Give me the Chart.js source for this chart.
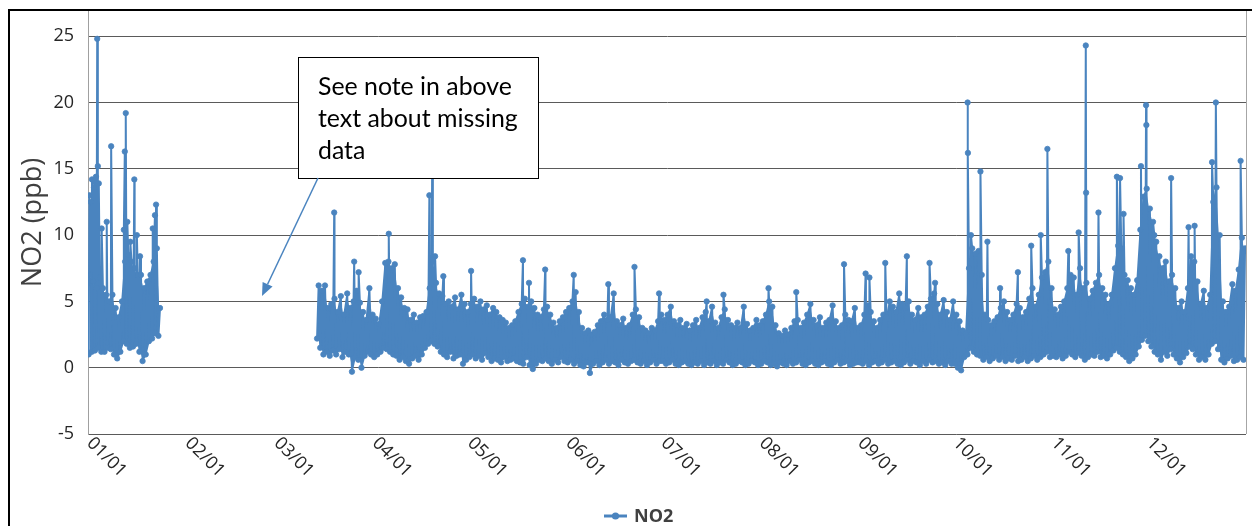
<!DOCTYPE html>
<html><head><meta charset="utf-8">
<script src="https://cdn.jsdelivr.net/npm/chart.js@4.4.1/dist/chart.umd.min.js"></script>
<style>html,body{margin:0;padding:0;background:#fff;}#wrap{width:1252px;height:526px;}</style>
</head><body><div id="wrap"><canvas id="c" width="1252" height="526"></canvas></div>
<script>
// ---- data (day-of-year, NO2 ppb) ----
const monthStarts = [0, 31, 59, 90, 120, 151, 181, 212, 243, 273, 304, 334];
const monthLabels = ['01/01','02/01','03/01','04/01','05/01','06/01','07/01','08/01','09/01','10/01','11/01','12/01'];
const yTickValues = [-5, 0, 5, 10, 15, 20, 25];

const janStartDay = 0;
const janLow  = [1.0,1.2,1.3,1.5,1.2,1.2,1.5,1.4,1.0,0.7,1.2,2.0,1.8,1.5,1.6,1.8,1.2,0.5,1.0,2.0,2.2,2.6,2.4];
const janHigh = [7.0,6.5,6.0,6.8,6.0,5.5,5.0,5.5,4.5,3.8,5.0,8.0,8.5,8.0,7.5,7.0,7.0,6.0,6.5,7.0,8.0,9.0,4.5];

const mainStartDay = 72;
const mainLow = [
 2.2,1.5,1.0,1.2,0.9,1.3,1.0,1.4,0.8,1.2,1.0,-0.3,0.8,0.6,0.0,0.9,1.2,1.0,
 0.8,1.0,1.2,1.5,1.4,1.2,1.0,0.9,0.6,0.8,0.5,0.3,0.7,0.9,0.6,1.0,1.5,1.8,2.0,1.8,1.6,1.2,1.0,0.8,1.2,0.7,0.9,1.0,0.3,0.6,
 0.8,1.0,0.7,0.9,0.6,1.1,0.8,0.5,0.7,0.6,0.4,0.8,0.5,0.6,0.7,0.5,0.4,0.3,0.8,0.2,-0.1,0.3,0.6,0.5,0.7,0.5,0.3,0.6,0.4,0.8,0.5,
 0.4,0.6,0.3,0.5,0.2,0.1,0.4,-0.4,0.3,0.5,0.2,0.4,0.6,0.3,0.5,0.4,0.2,0.6,0.4,0.3,0.5,0.6,0.4,0.3,0.5,0.2,0.4,0.6,0.3,0.5,
 0.5,0.3,0.4,0.6,0.3,0.2,0.4,0.5,0.3,0.2,0.4,0.3,0.5,0.2,0.4,0.3,0.5,0.2,0.4,0.3,0.6,0.4,0.2,0.3,0.5,0.4,0.2,0.3,0.5,0.4,0.2,
 0.3,0.5,0.4,0.2,0.3,0.1,0.4,0.3,0.2,0.5,0.3,0.4,0.6,0.3,0.2,0.4,0.5,0.3,0.2,0.4,0.5,0.3,0.2,0.4,0.6,0.3,0.4,0.5,0.2,0.3,0.4,
 0.4,0.3,0.5,0.2,0.4,0.5,0.3,0.4,0.6,0.3,0.4,0.5,0.3,0.2,0.4,0.6,0.3,0.5,0.4,0.2,0.5,0.3,0.6,0.4,0.5,0.3,0.4,0.2,0.5,0.3,
 0.3,0.0,-0.2,0.8,1.0,1.5,1.2,1.0,0.9,0.6,0.8,0.5,0.7,0.9,0.6,0.8,0.5,0.7,0.6,0.9,0.5,0.6,0.8,0.5,0.7,0.9,0.6,0.8,1.0,1.2,0.8,
 0.9,0.8,1.0,0.7,0.9,1.2,1.0,0.8,1.1,0.9,0.6,0.8,1.0,0.9,1.2,0.8,0.9,0.7,1.0,1.3,1.5,1.2,1.0,0.8,0.5,0.7,1.0,1.6,2.1,2.4,
 2.0,1.6,1.2,1.0,0.6,1.2,0.9,1.4,1.0,0.7,0.4,0.8,1.1,1.6,1.4,1.0,0.6,0.8,0.6,1.0,1.8,2.0,1.4,0.6,0.4,0.7,0.9,0.5,0.6,0.8,0.6
];
const mainHigh = [
 6.2,5.8,6.2,4.5,4.8,5.2,4.2,5.4,4.0,5.6,4.5,5.0,5.8,4.9,4.2,3.6,6.0,4.0,
 3.7,3.3,5.0,7.9,8.0,7.5,7.8,6.0,5.3,4.5,4.4,3.6,4.0,3.4,3.8,3.9,4.2,6.0,8.0,6.4,5.6,5.4,4.8,5.0,4.6,5.3,4.4,5.5,4.8,4.2,
 4.8,5.2,4.6,5.0,4.4,4.7,4.0,4.5,4.2,3.8,3.6,3.4,3.0,3.2,3.5,4.2,4.8,5.2,4.6,5.0,4.5,4.0,3.8,4.4,4.6,4.0,3.4,3.0,3.5,3.8,4.2,
 4.5,5.0,5.7,4.2,3.0,2.6,2.8,2.5,2.7,3.2,3.5,4.0,3.6,3.8,5.6,3.5,3.2,3.7,3.0,3.2,4.0,4.4,3.8,3.0,2.8,2.6,3.0,2.8,3.5,4.0,
 3.6,4.0,4.6,3.5,3.2,3.6,3.0,3.3,2.8,3.2,3.6,3.0,3.8,4.2,3.5,4.6,3.4,3.0,3.8,4.4,3.6,3.2,3.0,3.4,3.0,4.6,3.3,2.8,3.0,3.6,3.2,
 3.5,4.0,5.0,4.6,3.2,2.6,2.4,2.8,2.5,3.0,3.5,3.6,3.0,3.4,4.0,4.8,3.6,3.2,3.8,3.0,3.4,3.6,4.7,3.5,3.0,3.2,4.0,3.6,3.5,4.5,3.0,
 3.2,4.0,4.7,4.2,3.5,3.0,3.6,4.0,3.8,5.0,4.6,4.2,5.6,4.8,4.5,5.0,4.0,3.6,4.5,3.8,4.0,4.6,5.2,5.6,4.8,4.0,5.1,4.2,3.6,5.0,
 4.0,3.5,2.8,2.6,7.5,9.0,8.6,8.8,7.0,4.0,3.6,3.2,3.5,3.8,4.5,5.0,4.2,3.6,4.0,4.8,4.5,3.8,4.2,5.2,6.0,4.6,5.5,6.8,7.2,8.0,6.0,
 4.4,4.0,4.6,5.0,6.0,7.0,6.8,5.5,7.5,6.0,6.4,5.2,5.8,6.4,7.0,6.0,5.5,4.8,5.5,7.5,9.2,9.0,7.0,6.6,6.0,5.5,6.6,10.4,12.9,13.5,
 12.0,11.0,9.5,8.4,7.5,8.0,6.5,7.0,6.0,4.5,5.0,4.2,6.0,8.4,8.0,6.5,4.8,5.8,4.5,5.5,12.5,13.6,10.0,5.0,4.2,4.6,6.3,5.8,7.4,9.8,9.0
];

const spikeDays = [0.45,0.9,1.25,1.9,2.1,2.5,2.9,3.1,3.4,4.3,5.9,7.3,11.3,11.6,11.9,12.4,13.35,14.6,15.4,16.4,20.4,21.1,21.45,
 77.6,83.9,85.3,94.8,107.6,108.5,109.4,112.0,120.75,137.1,139.0,144.1,153.1,164.0,172.25,180.0,195.0,200.3,
 214.5,223.25,238.3,245.1,246.3,251.3,258.1,265.25,267.0,277.25,277.35,278.3,281.3,283.5,287.5,293.1,297.3,300.3,302.4,
 309.0,312.25,314.5,314.6,318.5,324.3,325.3,326.4,331.9,333.5,333.6,336.1,341.4,346.9,348.8,354.3,355.5,363.3];
const spikeValues = [13.0,12.5,14.2,13.6,14.0,14.4,24.8,15.2,13.9,10.5,11.0,16.7,10.4,16.3,19.2,11.0,9.5,14.2,10.0,8.4,10.5,11.5,12.3,
 11.7,8.0,7.2,10.1,13.0,16.0,8.4,6.9,7.3,8.1,6.4,7.4,7.0,6.3,7.6,5.6,5.0,5.5,
 6.0,5.7,7.8,7.1,6.8,7.9,8.4,7.9,6.4,20.0,16.2,10.0,14.8,9.5,6.0,7.2,9.2,10.0,16.5,
 8.8,10.2,24.3,13.2,11.7,14.4,14.3,11.6,15.2,19.8,18.3,10.0,14.3,10.6,10.7,15.5,20.0,15.6];

const missingGapDay = 45;

// ---- build series ----
const points = [], lowEnv = [], highEnv = [];
function addSegment(start, lows, highs) {
  for (let i = 0; i < lows.length; i++) {
    points.push({x: start + i + 0.2, y: lows[i]});
    points.push({x: start + i + 0.7, y: highs[i]});
    lowEnv.push({x: start + i + 0.45, y: lows[i]});
    highEnv.push({x: start + i + 0.45, y: highs[i]});
  }
}
addSegment(janStartDay, janLow, janHigh);
lowEnv.push({x: missingGapDay, y: null}); highEnv.push({x: missingGapDay, y: null});
addSegment(mainStartDay, mainLow, mainHigh);
spikeDays.forEach((d, i) => points.push({x: d, y: spikeValues[i]}));
points.push({x: missingGapDay, y: null});
points.sort((a, b) => a.x - b.x);

const BLUE = '#4a84bf';
const FONT = "'Open Sans', 'DejaVu Sans', sans-serif";

const deco = {
  id: 'deco',
  beforeDraw(chart) {
    const c = chart.ctx; c.save(); c.fillStyle = '#fff'; c.fillRect(0, 0, chart.width, chart.height); c.restore();
  },
  afterDraw(chart) {
    const c = chart.ctx, a = chart.chartArea, xs = chart.scales.x;
    c.save();
    c.strokeStyle = '#a6a6a6'; c.lineWidth = 1;
    c.beginPath(); c.moveTo(Math.round(a.right) + 0.5, a.top); c.lineTo(Math.round(a.right) + 0.5, a.bottom); c.stroke();
    c.strokeStyle = '#000'; c.lineWidth = 2;
    c.beginPath(); c.moveTo(9, 526); c.lineTo(9, 10); c.lineTo(1252, 10); c.stroke();
    c.fillStyle = '#262626'; c.font = '18px ' + FONT; c.textAlign = 'left'; c.textBaseline = 'top';
    monthStarts.forEach((d, i) => {
      const px = xs.getPixelForValue(d);
      c.save(); c.translate(px + 8, a.bottom); c.rotate(Math.PI / 4); c.fillText(monthLabels[i], 0, 0); c.restore();
    });
    c.fillStyle = '#fff'; c.fillRect(298, 57, 240, 121);
    c.strokeStyle = '#000'; c.lineWidth = 1; c.strokeRect(298.5, 57.5, 240, 121);
    c.fillStyle = '#000';
    let fs = 24; c.font = fs + "px Lato, 'Open Sans', sans-serif";
    const w = c.measureText('See note in above').width; fs = fs * 194 / w;
    c.font = fs.toFixed(2) + "px Lato, 'Open Sans', sans-serif";
    c.textBaseline = 'alphabetic';
    ['See note in above', 'text about missing', 'data'].forEach((t, i) => c.fillText(t, 318, 95 + i * 32));
    const x0 = 318, y0 = 178, x1 = 262, y1 = 296;
    const ang = Math.atan2(y1 - y0, x1 - x0), hl = 13, hw = 5.5;
    const bx = x1 - hl * Math.cos(ang), by = y1 - hl * Math.sin(ang);
    c.strokeStyle = BLUE; c.fillStyle = BLUE; c.lineWidth = 1.5;
    c.beginPath(); c.moveTo(x0, y0); c.lineTo(bx, by); c.stroke();
    c.beginPath(); c.moveTo(x1, y1);
    c.lineTo(bx + hw * Math.sin(ang), by - hw * Math.cos(ang));
    c.lineTo(bx - hw * Math.sin(ang), by + hw * Math.cos(ang));
    c.closePath(); c.fill();
    c.strokeStyle = BLUE; c.lineWidth = 3;
    c.beginPath(); c.moveTo(604, 516); c.lineTo(627, 516); c.stroke();
    c.beginPath(); c.arc(615.5, 516, 3.6, 0, Math.PI * 2); c.fill();
    c.fillStyle = '#404040'; c.font = 'bold 18px ' + FONT; c.textBaseline = 'alphabetic';
    c.fillText('NO2', 634, 522);
    c.restore();
  }
};

new Chart(document.getElementById('c'), {
  type: 'line',
  data: {datasets: [
    {label: 'NO2', data: points, borderColor: BLUE, backgroundColor: BLUE,
     borderWidth: 2, pointRadius: 2.7, pointBorderWidth: 0.8, pointBackgroundColor: BLUE, pointBorderColor: BLUE,
     spanGaps: false, tension: 0, fill: false},
    {label: 'low', data: lowEnv, borderWidth: 0, borderColor: 'rgba(0,0,0,0)', pointRadius: 0, fill: false, spanGaps: false},
    {label: 'high', data: highEnv, borderWidth: 0, borderColor: 'rgba(0,0,0,0)', backgroundColor: BLUE, pointRadius: 0, fill: '-1', spanGaps: false}
  ]},
  options: {
    responsive: false, animation: false, devicePixelRatio: 1,
    layout: {padding: {left: 0, right: 6, top: 11, bottom: 0}},
    plugins: {legend: {display: false}, tooltip: {enabled: false}, filler: {propagate: false}},
    scales: {
      x: {type: 'linear', min: 0, max: 365,
        grid: {display: false}, border: {display: false}, ticks: {display: false},
        afterFit(s) { s.height = 92; s.paddingLeft = 0; s.paddingRight = 0; }},
      y: {min: -5, max: 26.9,
        afterBuildTicks(s) { s.ticks = yTickValues.map(v => ({value: v})); },
        afterFit(s) { s.width = 88; s.paddingTop = 0; s.paddingBottom = 0; },
        grid: {color: '#5a5a5a', lineWidth: 1, drawTicks: false},
        border: {display: true, color: '#a0a0a0', width: 1},
        ticks: {font: {family: FONT, size: 18}, color: '#262626', padding: 14},
        title: {display: true, text: 'NO2 (ppb)', font: {family: FONT, size: 27}, color: '#404040', padding: {top: 17, bottom: 0}}
      }
    }
  },
  plugins: [deco]
});
</script></body></html>
